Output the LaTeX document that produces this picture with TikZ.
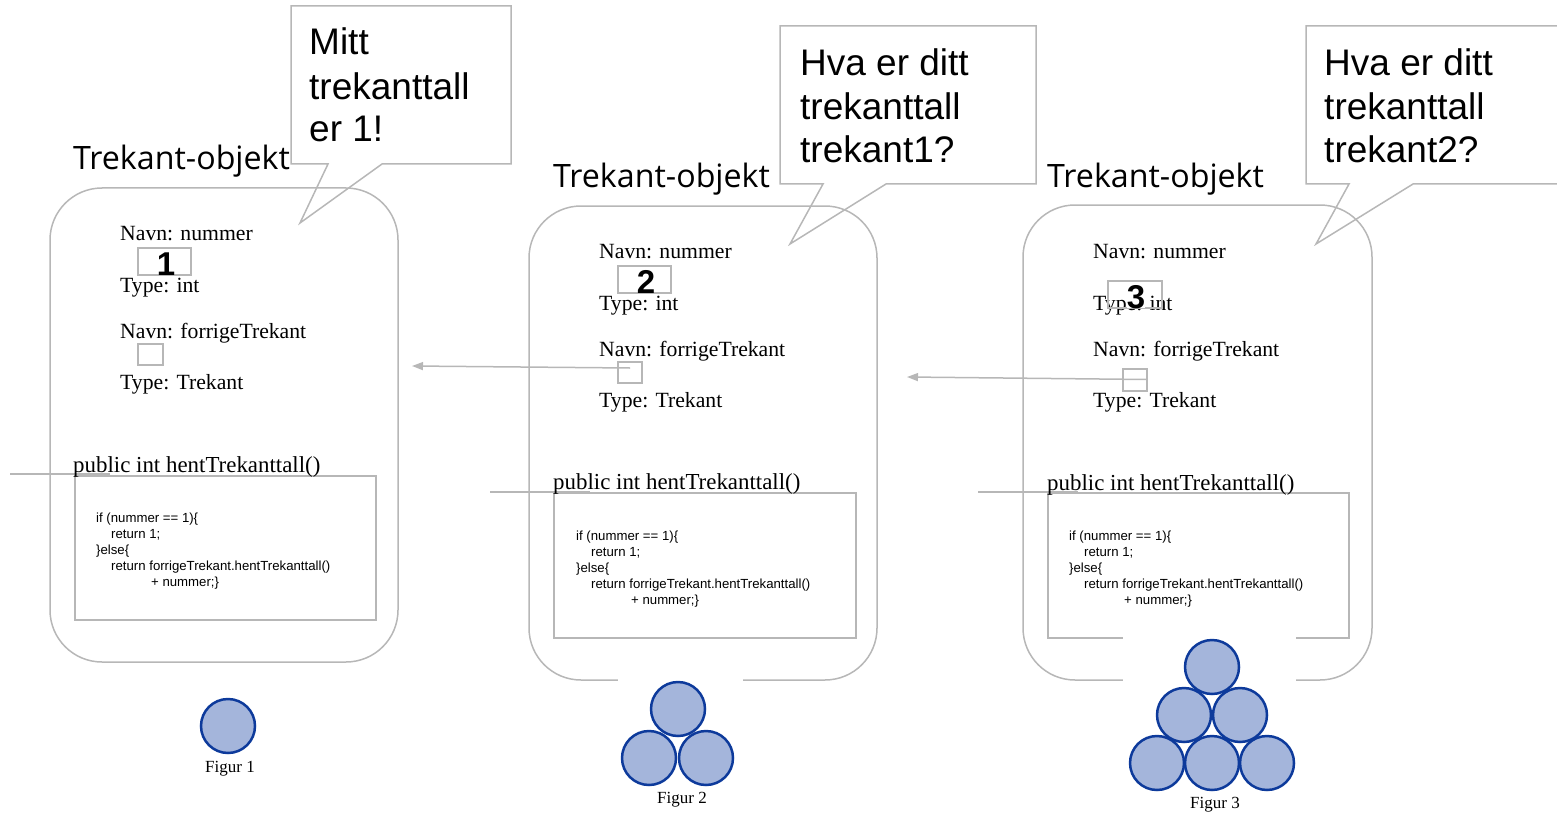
\documentclass[tikz,border=0pt]{standalone}
\usepackage{fontspec}
\setmainfont{Liberation Serif}
\newfontfamily\arialf{Liberation Sans}
\newfontfamily\opensansf{Open Sans}
\usetikzlibrary{arrows.meta}
\definecolor{lg}{HTML}{B7B7B7}
\definecolor{cfill}{HTML}{A4B5DB}
\definecolor{cdraw}{HTML}{0D3A9B}
\newcommand\mycodelines[3]{%
  \node[codetxt] (#1l1) at (#2,#3) {if (nummer == 1)\{};
  \node[codetxt] (#1l2) at (#2+15,#3+16) {return 1;};
  \node[codetxt] (#1l3) at (#2,#3+32) {\}else\{};
  \node[codetxt] (#1l4) at (#2+15,#3+48) {return forrigeTrekant.hentTrekanttall()};
  \node[codetxt] (#1l5) at (#2+55,#3+64) {+ nummer;\}};
}
\newcommand\myfields[3]{%
  \node[fieldtxt] (#1n1) at (#2,#3) {Navn: nummer};
  \node[fieldtxt] (#1t1) at (#2,#3+52) {Type: int};
  \node[fieldtxt] (#1n2) at (#2,#3+98) {Navn: forrigeTrekant};
  \node[fieldtxt] (#1t2) at (#2,#3+149) {Type: Trekant};
}
\begin{document}
\begin{tikzpicture}[x=1pt,y=-1pt,
  objbox/.style={draw=lg, line width=1.5pt, rounded corners=52pt},
  codebox/.style={draw=lg, line width=1.5pt},
  smallbox/.style={draw=lg, line width=1.5pt, inner sep=0pt, minimum width=24pt, minimum height=21pt},
  valbox/.style={draw=lg, line width=1.5pt, inner sep=0pt, minimum width=53pt, minimum height=27pt},
  gline/.style={draw=lg, line width=1.5pt},
  arrowline/.style={draw=lg, line width=1.5pt, -{Triangle[length=11pt,width=8pt]}},
  speech/.style={draw=lg, line width=1.5pt, line join=miter},
  titletxt/.style={anchor=base west, inner sep=0pt, font=\opensansf\fontsize{32.2}{38}\selectfont},
  fieldtxt/.style={anchor=base west, inner sep=0pt, font=\fontsize{21.7}{25}\selectfont},
  methodtxt/.style={anchor=base west, inner sep=0pt, font=\fontsize{22.9}{27}\selectfont},
  codetxt/.style={anchor=base west, inner sep=0pt, font=\arialf\fontsize{13.2}{16}\selectfont},
  speechtxt/.style={anchor=base west, inner sep=0pt, font=\arialf\fontsize{37}{44}\selectfont},
  numtxt/.style={anchor=base, inner sep=0pt, font=\arialf\bfseries\fontsize{33}{36}\selectfont},
  figtxt/.style={anchor=base, inner sep=0pt, font=\fontsize{17}{20}\selectfont},
  ball/.style={circle, draw=cdraw, fill=cfill, line width=2.5pt, minimum size=54pt, inner sep=0pt},
  patch/.style={fill=white, draw=none}
]
\useasboundingbox (0,0) rectangle (1557,813);
\clip (0,0) rectangle (1557,813);

% object frames
\node[objbox, minimum width=348pt, minimum height=474pt] (obj1) at (224,425) {};
\node[objbox, minimum width=348pt, minimum height=474pt] (obj2) at (703,443) {};
\node[objbox, minimum width=349pt, minimum height=475pt] (obj3) at (1197.5,442.5) {};

% code boxes
\node[codebox, minimum width=301pt, minimum height=144pt] (code1) at (225.5,548) {};
\node[codebox, minimum width=302pt, minimum height=145pt] (code2) at (705,565.5) {};
\node[codebox, minimum width=301pt, minimum height=145pt] (code3) at (1198.5,565.5) {};

% stray lines
\draw[gline] (10,474) -- (110,474);
\draw[gline] (490,492) -- (590,492);
\draw[gline] (978,492) -- (1078,492);

% white patches behind figures
\fill[patch] (618,650) rectangle (743,700);
\fill[patch] (1123,630) rectangle (1296,700);

% titles
\node[titletxt] (title1) at (73,170) {Trekant-objekt};
\node[titletxt] (title2) at (553,188) {Trekant-objekt};
\node[titletxt] (title3) at (1047,188) {Trekant-objekt};

% fields
\myfields{a}{120}{240}
\myfields{b}{599}{258}
\myfields{c}{1093}{258}

% value boxes
\node[valbox] (val1) at (164.5,261.5) {};
\node[numtxt] (num1) at (166,275) {1};
\node[valbox] (val2) at (644.5,279.5) {};
\node[numtxt] (num2) at (646,293) {2};
\node[valbox, minimum width=54pt] (val3) at (1135,294.5) {};
\node[numtxt, fill=white, inner sep=0pt] (num3) at (1136,308) {3};

% pointer boxes
\node[smallbox, minimum width=25pt] (ptr1) at (150.5,354.5) {};
\node[smallbox] (ptr2) at (630,372.5) {};
\node[smallbox, minimum height=22pt] (ptr3) at (1135,380) {};

% arrows
\coordinate (a2s) at (630,368);
\coordinate (a2e) at (412,366);
\coordinate (a3e) at (907,377);
\draw[arrowline] (a2s) -- (a2e);
\draw[arrowline] (ptr3.east |- 0,379.5) -- (a3e);

% methods
\node[methodtxt] (meth1) at (73,472) {public int hentTrekanttall()};
\node[methodtxt] (meth2) at (553,489) {public int hentTrekanttall()};
\node[methodtxt] (meth3) at (1047,490) {public int hentTrekanttall()};

% code
\mycodelines{p}{96}{522}
\mycodelines{q}{576}{540}
\mycodelines{r}{1069}{540}

% speech bubbles
\draw[speech] (291,6) -- (511,6) -- (511,164) -- (382,164) -- (300,223) -- (328,164) -- (291,164) -- cycle;
\node[speechtxt] (s1a) at (309,55) {Mitt};
\node[speechtxt] (s1b) at (309,100) {trekanttall};
\node[speechtxt] (s1c) at (309,142) {er 1!};

\draw[speech] (780,26) -- (1036,26) -- (1036,184) -- (886,184) -- (790,244) -- (823,184) -- (780,184) -- cycle;
\node[speechtxt] (s2a) at (800,76) {Hva er ditt};
\node[speechtxt] (s2b) at (800,120) {trekanttall};
\node[speechtxt] (s2c) at (800,163) {trekant1?};

\draw[speech] (1306,26) -- (1580,26) -- (1580,184) -- (1413,184) -- (1316,244) -- (1349,184) -- (1306,184) -- cycle;
\node[speechtxt] (s3a) at (1324,76) {Hva er ditt};
\node[speechtxt] (s3b) at (1324,120) {trekanttall};
\node[speechtxt] (s3c) at (1324,163) {trekant2?};

% figures
\node[ball] (f1a) at (228,726) {};
\node[figtxt] (fig1) at (230,772) {Figur 1};

\node[ball] (f2a) at (678,709) {};
\node[ball] (f2b) at (649,758) {};
\node[ball] (f2c) at (706,758) {};
\node[figtxt] (fig2) at (682,803) {Figur 2};

\node[ball] (f3a) at (1212,667) {};
\node[ball] (f3b) at (1184,715) {};
\node[ball] (f3c) at (1240,715) {};
\node[ball] (f3d) at (1157,763) {};
\node[ball] (f3e) at (1212,763) {};
\node[ball] (f3f) at (1267,763) {};
\node[figtxt] (fig3) at (1215,808) {Figur 3};
\end{tikzpicture}
\end{document}
